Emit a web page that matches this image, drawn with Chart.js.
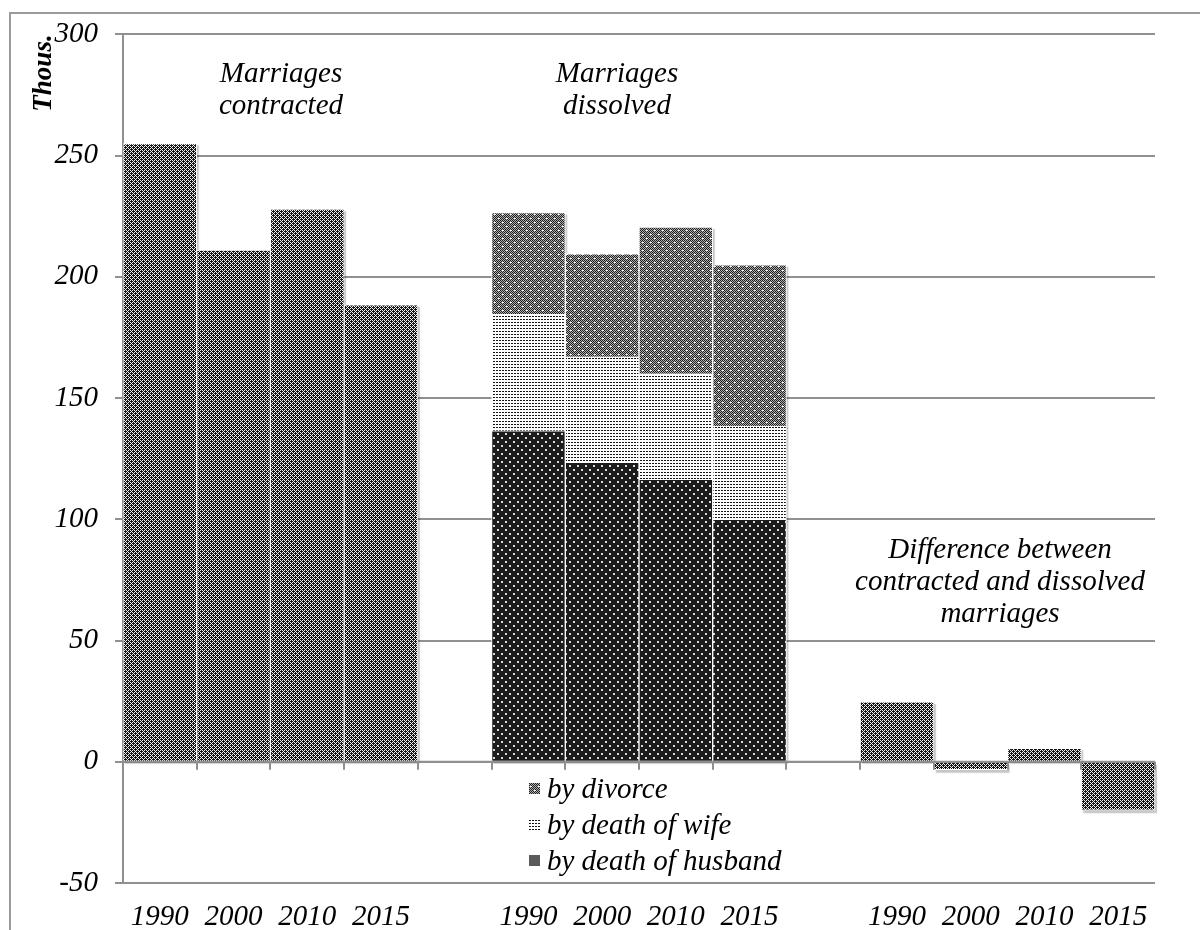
<!DOCTYPE html>
<html>
<head>
<meta charset="utf-8">
<script src="https://cdn.jsdelivr.net/npm/chart.js@4.4.1/dist/chart.umd.min.js"></script>
<style>
  html, body { margin: 0; padding: 0; background: #fff; }
  #wrap { position: relative; width: 1200px; height: 930px; }
</style>
</head>
<body>
<div id="wrap"><canvas id="c" width="1200" height="930"></canvas></div>
<script>
// ---- data ----
const years = ['1990', '2000', '2010', '2015'];
const contracted = [255, 211, 228, 188.5];
const byHusband = [136.5, 123.5, 116.5, 100];
const byWife = [48, 43.5, 43.5, 38.5];
const byDivorce = [42, 42.5, 60.5, 66.5];
const difference = [24.7, -3.3, 5.5, -20];
const yMin = -50, yMax = 300, yStep = 50;
const legendLabels = ['by divorce', 'by death of wife', 'by death of husband'];
const groupTitles = [
  ['Marriages', 'contracted'],
  ['Marriages', 'dissolved'],
  ['Difference between', 'contracted and dissolved', 'marriages']
];
const axisTitle = 'Thous.';

// categories: three groups of years separated by empty slots
const categories = [...years, '', ...years, '', ...years];
const nulls = n => Array(n).fill(null);
const contractedData = [...contracted, ...nulls(10)];
const husbandData = [...nulls(5), ...byHusband, ...nulls(5)];
const wifeData = [...nulls(5), ...byWife, ...nulls(5)];
const divorceData = [...nulls(5), ...byDivorce, ...nulls(5)];
const differenceData = [...nulls(10), ...difference];

// ---- patterns ----
function makePattern(rows, palette) {
  const h = rows.length, w = rows[0].length;
  const cv = document.createElement('canvas');
  cv.width = w; cv.height = h;
  const g = cv.getContext('2d');
  for (let y = 0; y < h; y++) for (let x = 0; x < w; x++) {
    g.fillStyle = palette[rows[y][x]];
    g.fillRect(x, y, 1, 1);
  }
  return g.createPattern(cv, 'repeat');
}
const ctxMain = document.getElementById('c').getContext('2d');
const patCross = makePattern([
  '.X.X',
  'X.XX',
  '.X.X',
  'XXX.'
], { 'X': '#141414', '.': '#f2f2f2' });
const patDivorce = makePattern([
  'X.X.X.X.',
  '.X.X.X.X',
  'X.WWX.X.',
  '.X.X.X.X',
  'X.X.X.X.',
  '.X.X.X.X',
  'X.X.X.WW',
  '.X.X.X.X'
], { 'X': '#1e1e1e', '.': '#b0b0b0', 'W': '#ffffff' });
const patWife = makePattern([
  '...',
  '.XX',
  '...'
], { 'X': '#141414', '.': '#ffffff' });
const patHusband = makePattern([
  'XXXXXXXX',
  'XWWXXXXX',
  'XWWXXXXX',
  'XXXXXXXX',
  'XXXXXXXX',
  'XXXXXWWX',
  'XXXXXWWX',
  'XXXXXXXX'
], { 'X': '#1b1b1b', 'W': '#d8d8d8' });

const SERIF = '"Liberation Serif", "DejaVu Serif", serif';
const GRID = '#909090';
const FS = 29;

// ---- plugins ----
const shadowPlugin = {
  id: 'shadows',
  beforeDatasetsDraw(chart) {
    const ctx = chart.ctx;
    ctx.save();
    ctx.fillStyle = 'rgba(0,0,0,0.18)';
    ctx.shadowColor = 'rgba(0,0,0,0.35)';
    ctx.shadowBlur = 3;
    chart.data.datasets.forEach((ds, i) => {
      const meta = chart.getDatasetMeta(i);
      meta.data.forEach((el, j) => {
        if (ds.data[j] == null) return;
        const p = el.getProps(['x', 'y', 'base', 'width'], true);
        const top = Math.min(p.y, p.base), bot = Math.max(p.y, p.base);
        ctx.fillRect(p.x - p.width / 2 + 2, top + 2, p.width, bot - top + 1);
      });
    });
    ctx.restore();
  }
};

const decorPlugin = {
  id: 'decor',
  afterDatasetsDraw(chart) {
    const ctx = chart.ctx, a = chart.chartArea;
    const xs = chart.scales.x, ys = chart.scales.y;
    const y0 = ys.getPixelForValue(0);
    ctx.save();
    // zero axis line with category tick marks
    ctx.strokeStyle = GRID; ctx.lineWidth = 2;
    ctx.beginPath();
    ctx.moveTo(a.left, y0); ctx.lineTo(a.right, y0);
    const n = categories.length;
    const slot = xs.getPixelForValue(1) - xs.getPixelForValue(0);
    for (let i = 0; i <= n; i++) {
      const x = i < n ? xs.getPixelForValue(i) - slot / 2 : a.right;
      ctx.moveTo(Math.round(x), y0); ctx.lineTo(Math.round(x), y0 + 8);
    }
    ctx.stroke();

    // outer frame
    ctx.strokeStyle = '#9a9a9a'; ctx.lineWidth = 2;
    ctx.beginPath();
    ctx.moveTo(1200, 13); ctx.lineTo(10, 13); ctx.lineTo(10, 930);
    ctx.stroke();

    // axis title
    ctx.fillStyle = '#000';
    ctx.font = 'italic bold 27px ' + SERIF;
    ctx.save();
    ctx.translate(51, 73);
    ctx.rotate(-Math.PI / 2);
    ctx.textAlign = 'center'; ctx.textBaseline = 'alphabetic';
    ctx.fillText(axisTitle, 0, 0);
    ctx.restore();

    // group titles
    ctx.font = 'italic ' + FS + 'px ' + SERIF;
    ctx.textAlign = 'center'; ctx.textBaseline = 'alphabetic';
    const titlePos = [[281, 82], [617, 82], [1000, 558]];
    groupTitles.forEach((lines, g) => {
      lines.forEach((t, k) => ctx.fillText(t, titlePos[g][0], titlePos[g][1] + k * 32));
    });

    // legend
    const swatches = [patDivorce, patWife, '#5a5a5a'];
    legendLabels.forEach((t, k) => {
      const cy = 789 + k * 36;
      ctx.fillStyle = swatches[k];
      ctx.fillRect(529, cy - 6, 11, 11);
      ctx.fillStyle = '#000';
      ctx.textAlign = 'left'; ctx.textBaseline = 'middle';
      ctx.fillText(t, 547, cy + 1);
    });
    ctx.restore();
  }
};

const barCommon = {
  borderColor: '#ffffff',
  borderWidth: 1,
  categoryPercentage: 1.0,
  barPercentage: 1.0
};

new Chart(ctxMain, {
  type: 'bar',
  data: {
    labels: categories,
    datasets: [
      { label: 'Marriages contracted', data: contractedData, backgroundColor: patCross, ...barCommon },
      { label: legendLabels[2], data: husbandData, backgroundColor: patHusband, ...barCommon },
      { label: legendLabels[1], data: wifeData, backgroundColor: patWife, ...barCommon },
      { label: legendLabels[0], data: divorceData, backgroundColor: patDivorce, ...barCommon },
      { label: 'Difference', data: differenceData, backgroundColor: patCross, ...barCommon }
    ]
  },
  options: {
    responsive: false,
    animation: false,
    layout: { padding: { top: 29, right: 45, left: 0, bottom: 0 } },
    plugins: { legend: { display: false }, tooltip: { enabled: false } },
    scales: {
      x: {
        stacked: true,
        grid: { display: false },
        border: { display: false },
        ticks: {
          color: '#000', font: { family: SERIF, size: FS, style: 'italic' },
          maxRotation: 0, autoSkip: false, padding: 9
        },
        afterFit(s) { s.height = 47; }
      },
      y: {
        stacked: true,
        min: yMin, max: yMax,
        grid: { color: GRID, lineWidth: 2, tickLength: 8 },
        border: { display: true, color: GRID, width: 2 },
        ticks: {
          stepSize: yStep, color: '#000', padding: 17,
          font: { family: SERIF, size: FS, style: 'italic' }
        },
        afterFit(s) { s.width = 123; }
      }
    }
  },
  plugins: [shadowPlugin, decorPlugin]
});
</script>
</body>
</html>
